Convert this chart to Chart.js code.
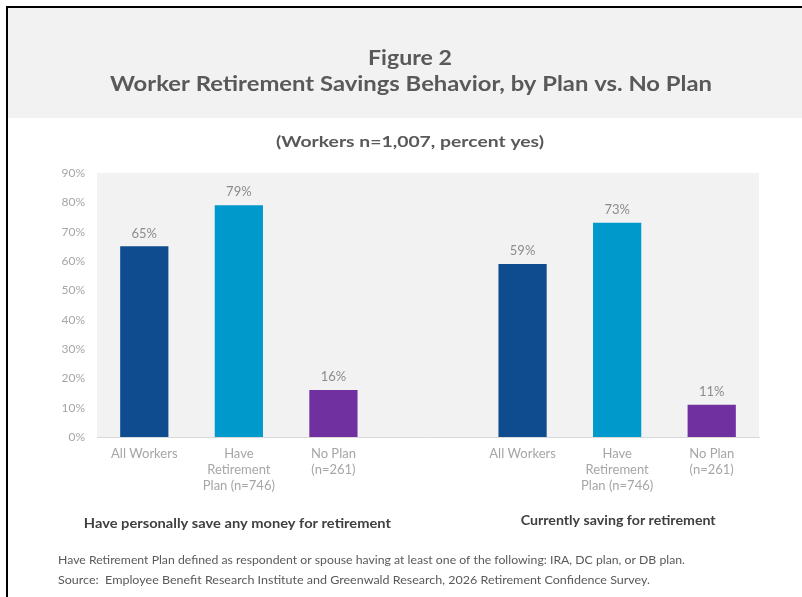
<!DOCTYPE html>
<html>
<head>
<meta charset="utf-8">
<script src="https://cdn.jsdelivr.net/npm/chart.js@4/dist/chart.umd.min.js"></script>
<style>
html,body{margin:0;padding:0;background:#fff;}
canvas{display:block;}
</style>
</head>
<body>
<canvas id="c" width="802" height="597"></canvas>
<script>
// ---- Data ----
const titleLines = ['Figure 2', 'Worker Retirement Savings Behavior, by Plan vs. No Plan'];
const subtitle = '(Workers n=1,007, percent yes)';
const categories = [['All Workers'], ['Have', 'Retirement', 'Plan (n=746)'], ['No Plan', '(n=261)']];
const groupNames = ['Have personally save any money for retirement', 'Currently saving for retirement'];
const savedAny = [65, 79, 16];
const currentlySaving = [59, 73, 11];
const yTicks = [0, 10, 20, 30, 40, 50, 60, 70, 80, 90];
const footnotes = [
  'Have Retirement Plan defined as respondent or spouse having at least one of the following: IRA, DC plan, or DB plan.',
  'Source:  Employee Benefit Research Institute and Greenwald Research, 2026 Retirement Confidence Survey.'
];
const barColors = ['#0f4c8f', '#0099cc', '#7030a0'];

// Build combined table (gap category between the two groups)
const labels = [...categories, '', ...categories];
const values = [...savedAny, null, ...currentlySaving];
const colors = [...barColors, 'rgba(0,0,0,0)', ...barColors];

const FONT = 'Lato, "Open Sans", sans-serif';

// draw text stretched/compressed horizontally to a target width
function fitText(ctx, text, x, y, w, align) {
  ctx.save();
  ctx.textAlign = 'left';
  const m = ctx.measureText(text).width;
  const sx = w / m;
  let left = x;
  if (align === 'center') left = x - w / 2;
  ctx.translate(left, y);
  ctx.scale(sx, 1);
  ctx.fillText(text, 0, 0);
  ctx.restore();
}

const decor = {
  id: 'decor',
  beforeDraw(chart) {
    const ctx = chart.ctx;
    ctx.save();
    ctx.fillStyle = '#ffffff';
    ctx.fillRect(0, 0, chart.width, chart.height);
    // header band
    ctx.fillStyle = '#f2f2f2';
    ctx.fillRect(8, 8, 794, 110);
    // border
    ctx.fillStyle = '#000000';
    ctx.fillRect(6, 6, 796, 2);
    ctx.fillRect(6, 6, 2, 591);
    // plot area
    const a = chart.chartArea;
    ctx.fillStyle = '#f2f2f2';
    ctx.fillRect(a.left, a.top, a.right - a.left, a.bottom - a.top);
    ctx.restore();
  },
  afterDatasetsDraw(chart) {
    const ctx = chart.ctx;
    const meta = chart.getDatasetMeta(0);
    ctx.save();
    ctx.fillStyle = '#8c8c8c';
    ctx.font = '13px ' + FONT;
    ctx.textAlign = 'center';
    ctx.textBaseline = 'middle';
    meta.data.forEach((bar, i) => {
      const v = values[i];
      if (v == null) return;
      ctx.fillText(v + '%', bar.x, bar.y - 13);
    });
    ctx.restore();
  },
  afterDraw(chart) {
    const ctx = chart.ctx;
    const xs = chart.scales.x;
    ctx.save();
    ctx.fillStyle = '#595959';
    ctx.textBaseline = 'middle';
    ctx.font = 'bold 21px ' + FONT;
    fitText(ctx, titleLines[0], 410, 58, 84, 'center');
    fitText(ctx, titleLines[1], 411, 84, 602, 'center');
    ctx.font = 'bold 16px ' + FONT;
    fitText(ctx, subtitle, 410, 142, 268, 'center');
    // group labels
    ctx.fillStyle = '#404040';
    ctx.font = 'bold 13px ' + FONT;
    fitText(ctx, groupNames[0], xs.getPixelForValue(1) - 1.5, 524, 307, 'center');
    fitText(ctx, groupNames[1], xs.getPixelForValue(5) + 1, 521, 195, 'center');
    // footnotes
    ctx.fillStyle = '#595959';
    ctx.font = '11px ' + FONT;
    fitText(ctx, footnotes[0], 58, 560, 627, 'left');
    fitText(ctx, footnotes[1], 58, 580, 592, 'left');
    ctx.restore();
  }
};

new Chart(document.getElementById('c'), {
  type: 'bar',
  data: {
    labels: labels,
    datasets: [{
      data: values,
      backgroundColor: colors,
      borderWidth: 0,
      categoryPercentage: 1,
      barPercentage: 0.51
    }]
  },
  options: {
    responsive: false,
    animation: false,
    devicePixelRatio: 1,
    layout: { padding: { left: 8, right: 43, top: 173, bottom: 0 } },
    plugins: { legend: { display: false }, tooltip: { enabled: false }, title: { display: false } },
    scales: {
      x: {
        grid: { display: false, drawTicks: false },
        border: { display: true, color: '#d9d9d9', width: 1 },
        ticks: {
          color: '#a6a6a6',
          font: { family: FONT, size: 13, lineHeight: 16 / 13 },
          padding: 9,
          maxRotation: 0,
          autoSkip: false
        },
        afterFit(s) { s.height = 160; }
      },
      y: {
        min: 0,
        max: 90,
        grid: { display: false, drawTicks: false },
        border: { display: false },
        afterBuildTicks(s) { s.ticks = yTicks.map(v => ({ value: v })); },
        ticks: {
          color: '#a6a6a6',
          font: { family: FONT, size: 12 },
          padding: 12,
          callback: v => v + '%'
        },
        afterFit(s) { s.width = 89; }
      }
    }
  },
  plugins: [decor]
});
</script>
</body>
</html>
